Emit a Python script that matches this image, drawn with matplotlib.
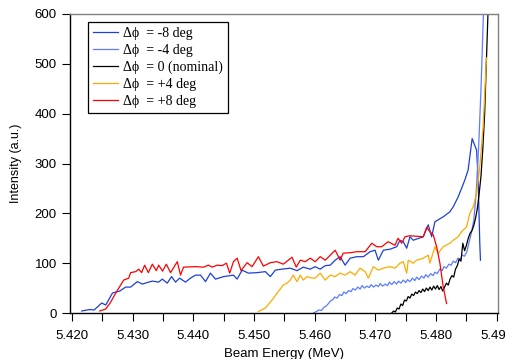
import numpy as np
import matplotlib

matplotlib.use("Agg")
import matplotlib.pyplot as plt
from matplotlib.ticker import MultipleLocator

plt.rcParams["font.family"] = ["Liberation Sans", "DejaVu Sans"]

# dphi = -8 deg
e_m8 = [5.42164, 5.42296, 5.42366, 5.42493, 5.42559, 5.42669, 5.42723, 5.42789,
        5.42887, 5.42969, 5.43080, 5.43162, 5.43265, 5.43331, 5.43430, 5.43490,
        5.43572, 5.43643, 5.43709, 5.43775, 5.43873, 5.43955, 5.44037, 5.44120,
        5.44202, 5.44284, 5.44366, 5.44498, 5.44662, 5.44723, 5.44805, 5.44908,
        5.45051, 5.45188, 5.45270, 5.45352, 5.45462, 5.45598, 5.45709, 5.45812,
        5.45927, 5.46009, 5.46091, 5.46174, 5.46256, 5.46338, 5.46420, 5.46502,
        5.46584, 5.46694, 5.46803, 5.46913, 5.46995, 5.47049, 5.47131, 5.47242,
        5.47351, 5.47406, 5.47460, 5.47516, 5.47570, 5.47624, 5.47789, 5.47871,
        5.47927, 5.47981, 5.48035, 5.48117, 5.48227, 5.48282, 5.48364, 5.48420,
        5.48474, 5.48528, 5.48594, 5.48667, 5.48692, 5.48720, 5.48731]
i_m8 = [4, 7, 6, 20, 16, 40, 42, 44,
        52, 52, 63, 58, 62, 64, 62, 68,
        60, 73, 62, 70, 62, 70, 76, 76,
        63, 80, 68, 73, 76, 68, 86, 80,
        81, 83, 73, 86, 88, 90, 85, 92,
        88, 93, 88, 95, 96, 106, 113, 96,
        110, 113, 113, 123, 126, 106, 126, 128,
        133, 146, 143, 130, 153, 146, 153, 177,
        153, 183, 187, 193, 203, 213, 233, 250,
        267, 287, 350, 327, 273, 140, 106]

# dphi = -4 deg
e_m4 = [5.4598, 5.4603, 5.4607, 5.4611, 5.4615, 5.4619, 5.4622, 5.4626, 5.4630,
        5.4633, 5.4637, 5.4641, 5.4645, 5.4648, 5.4652, 5.4656, 5.4660, 5.4663,
        5.4667, 5.4671, 5.4675, 5.4678, 5.4682, 5.4686, 5.4690, 5.4693, 5.4697,
        5.4701, 5.4705, 5.4708, 5.4712, 5.4716, 5.4720, 5.4723, 5.4727, 5.4731,
        5.4735, 5.4738, 5.4742, 5.4746, 5.4750, 5.4753, 5.4757, 5.4761, 5.4765,
        5.4768, 5.4772, 5.4776, 5.4780, 5.4783, 5.4787, 5.4791, 5.4795, 5.4798,
        5.4802, 5.4806, 5.4810, 5.4813, 5.4817, 5.4821, 5.4825, 5.4828, 5.4832,
        5.4836, 5.4840, 5.4843, 5.4847, 5.4851, 5.4854, 5.4858, 5.4862, 5.4866,
        5.4870, 5.4874, 5.4878, 5.4880]
i_m4 = [0, 3, 6, 5, 11, 14, 18, 24, 27,
        32, 30, 37, 35, 42, 39, 45, 43, 49,
        46, 52, 48, 55, 50, 54, 51, 57, 52,
        56, 53, 59, 54, 58, 55, 62, 57, 63,
        58, 64, 60, 66, 61, 67, 63, 70, 65,
        72, 67, 74, 70, 77, 72, 79, 75, 82,
        79, 88, 85, 93, 90, 98, 96, 104, 101,
        110, 108, 116, 114, 124, 140, 160, 185, 240,
        330, 450, 600, 680]

# dphi = 0 (nominal)
e_0 = [5.4727, 5.4730, 5.4733, 5.4736, 5.4739, 5.4742, 5.4745, 5.4748, 5.4751,
       5.4754, 5.4757, 5.4760, 5.4763, 5.4766, 5.4769, 5.4772, 5.4775, 5.4778,
       5.4781, 5.4784, 5.4787, 5.4790, 5.4793, 5.4796, 5.4799, 5.4802, 5.4805,
       5.4808, 5.4811, 5.4814, 5.4817, 5.4820, 5.4823, 5.4826, 5.4829, 5.4832,
       5.4835, 5.4838, 5.4841, 5.4844, 5.4847, 5.4850, 5.4853, 5.4856, 5.4859,
       5.4862, 5.4865, 5.4868, 5.4871, 5.4874, 5.4877, 5.4880, 5.4883, 5.4886]
i_0 = [0, 4, 2, 10, 8, 18, 15, 26, 24,
       33, 30, 38, 35, 42, 39, 45, 41, 48,
       43, 50, 45, 52, 46, 54, 48, 55, 47,
       53, 44, 52, 60, 56, 68, 75, 72, 88,
       95, 108, 104, 140, 125, 136, 150, 160, 165,
       175, 190, 210, 240, 275, 330, 400, 510, 620]

# dphi = +4 deg
e_p4 = [5.45073, 5.45188, 5.45298, 5.45401, 5.45483, 5.45544, 5.45598, 5.45648,
        5.45709, 5.45763, 5.45812, 5.45873, 5.45955, 5.46009, 5.46091, 5.46174,
        5.46256, 5.46338, 5.46420, 5.46502, 5.46584, 5.46666, 5.46748, 5.46831,
        5.46885, 5.46967, 5.47049, 5.47131, 5.47242, 5.47324, 5.47406, 5.47460,
        5.47516, 5.47542, 5.47624, 5.47680, 5.47789, 5.47871, 5.47899, 5.47981,
        5.48035, 5.48117, 5.48227, 5.48282, 5.48364, 5.48420, 5.48502, 5.48556,
        5.48611, 5.48667, 5.48720, 5.48775, 5.48830]
i_p4 = [3, 10, 26, 43, 56, 60, 66, 76,
        63, 76, 66, 73, 70, 70, 80, 66,
        76, 73, 80, 76, 83, 76, 90, 83,
        70, 93, 86, 90, 93, 90, 100, 103,
        80, 106, 100, 106, 110, 116, 100, 133,
        120, 133, 140, 146, 153, 163, 173, 200,
        213, 240, 294, 374, 512]

# dphi = +8 deg
e_p8 = [5.42460, 5.42559, 5.42641, 5.42723, 5.42854, 5.42937, 5.42969, 5.43052,
        5.43101, 5.43150, 5.43199, 5.43260, 5.43326, 5.43392, 5.43430, 5.43495,
        5.43556, 5.43627, 5.43737, 5.43791, 5.43840, 5.44037, 5.44169, 5.44251,
        5.44312, 5.44394, 5.44476, 5.44547, 5.44601, 5.44662, 5.44723, 5.44788,
        5.44887, 5.44969, 5.45073, 5.45155, 5.45270, 5.45380, 5.45483, 5.45566,
        5.45626, 5.45697, 5.45763, 5.45845, 5.45927, 5.46009, 5.46091, 5.46174,
        5.46256, 5.46338, 5.46420, 5.46469, 5.46584, 5.46694, 5.46831, 5.46941,
        5.47023, 5.47105, 5.47209, 5.47324, 5.47373, 5.47434, 5.47488, 5.47570,
        5.47789, 5.47845, 5.47899, 5.47953, 5.48009, 5.48063, 5.48117, 5.48173]
i_p8 = [4, 8, 22, 40, 66, 70, 81, 83,
        88, 81, 96, 81, 98, 85, 96, 84,
        98, 81, 103, 76, 92, 93, 92, 96,
        92, 96, 95, 100, 80, 103, 110, 85,
        101, 93, 113, 94, 101, 103, 98, 106,
        112, 92, 106, 103, 110, 103, 113, 106,
        116, 126, 106, 120, 121, 123, 123, 140,
        133, 133, 143, 136, 150, 140, 153, 155,
        153, 172, 163, 157, 133, 100, 53, 19]

series = [
    (e_m8, i_m8, "#1c3fd6", "Δϕ  = -8 deg"),
    (e_m4, i_m4, "#5b7cff", "Δϕ  = -4 deg"),
    (e_0, i_0, "#000000", "Δϕ  = 0 (nominal)"),
    (e_p4, i_p4, "#ffaa00", "Δϕ  = +4 deg"),
    (e_p8, i_p8, "#ff0000", "Δϕ  = +8 deg"),
]

fig = plt.figure(figsize=(5.05, 3.59), dpi=100)
ax = fig.add_axes([70 / 505, 1 - 313 / 359, 428 / 505, 299 / 359])

for e, i, c, lab in series:
    ax.plot(e, i, color=c, lw=0.9, label=lab)

ax.set_xlim(5.4197, 5.4902)
ax.set_ylim(0, 600)
ax.xaxis.set_major_locator(MultipleLocator(0.01))
ax.xaxis.set_minor_locator(MultipleLocator(0.005))
ax.yaxis.set_major_locator(MultipleLocator(100))
ax.xaxis.set_major_formatter(matplotlib.ticker.FormatStrFormatter("%.3f"))
ax.tick_params(which="both", direction="out", length=5.5, width=0.8,
               labelsize=9.5, top=False, right=False)
ax.tick_params(axis="x", pad=7)
ax.tick_params(axis="y", pad=4)
ax.spines["top"].set_color("#808080")
ax.spines["right"].set_color("#808080")
for s in ax.spines.values():
    s.set_linewidth(1.0)

ax.set_xlabel("Beam Energy (MeV)", fontsize=9.5, labelpad=4)
ax.set_ylabel("Intensity (a.u.)", fontsize=9, labelpad=9)

leg = ax.legend(loc="upper left", bbox_to_anchor=(88 / 505, 1 - 22 / 359),
                bbox_transform=fig.transFigure, borderaxespad=0,
                prop={"family": ["Liberation Serif", "DejaVu Serif"], "size": 10},
                fancybox=False, framealpha=1, edgecolor="black",
                handlelength=1.8, handletextpad=0.4, labelspacing=0.28,
                borderpad=0.35)
leg.get_frame().set_linewidth(0.9)

fig.savefig("out.png", dpi=100)
